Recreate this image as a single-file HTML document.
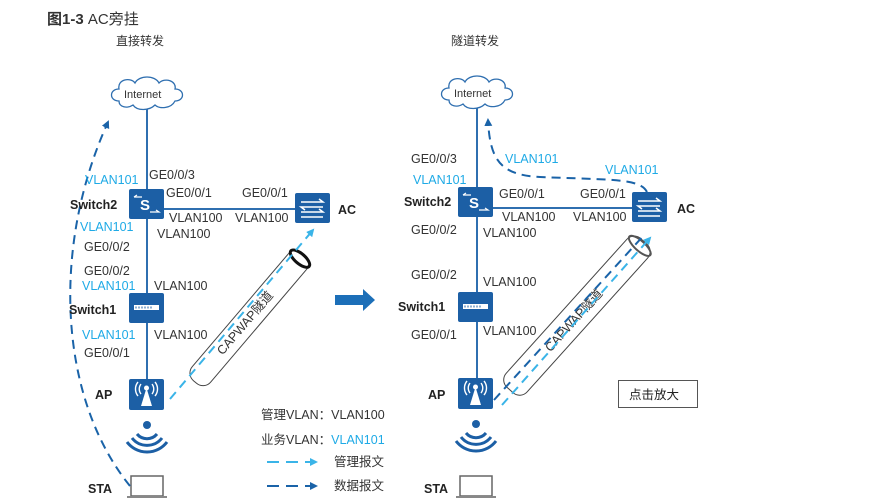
<!DOCTYPE html>
<html><head><meta charset="utf-8"><style>
body{margin:0;background:#fff;width:869px;height:498px;overflow:hidden}
svg text{font-family:"Liberation Sans","Noto Sans CJK SC",sans-serif;font-size:12.5px;fill:#333}
.c{fill:#1eaae6}
.b{font-weight:bold;fill:#222}
</style></head><body>
<svg width="869" height="498" viewBox="0 0 869 498" xmlns="http://www.w3.org/2000/svg">
<defs>
<marker id="ma" markerWidth="8" markerHeight="8" refX="6" refY="4" orient="auto" markerUnits="userSpaceOnUse"><path d="M0,0 L8,4 L0,8 z" fill="#3ab4e8"/></marker>
<marker id="mb" markerWidth="8" markerHeight="8" refX="6" refY="4" orient="auto" markerUnits="userSpaceOnUse"><path d="M0,0 L8,4 L0,8 z" fill="#1a63a8"/></marker>
<g id="cloud"><path d="M-28,8 C-38,8 -38,-4 -28,-4 C-30,-14 -16,-16 -12,-10 C-8,-18 8,-18 12,-10 C18,-16 30,-12 28,-4 C38,-4 38,8 28,8 C24,16 12,16 8,12 C2,18 -10,18 -14,12 C-20,16 -28,14 -28,8 z" fill="#fff" stroke="#2f6fb0" stroke-width="1.3"/></g>
<g id="sw2"><rect x="0" y="0" width="35" height="30" rx="2" fill="#1c5fa5"/><text x="11" y="21" style="fill:#fff;font-size:15px;font-weight:bold">S</text><path d="M5,8 h8 M5,8 l3,-2 M21,23 h9 l-3,-2" stroke="#fff" fill="none" stroke-width="1.2"/></g>
<g id="ac"><rect x="0" y="0" width="35" height="30" rx="2" fill="#1c5fa5"/><path d="M6,9 h22 l-4,-3 M28,14 h-22 l4,3 M6,19 h22 l-4,-3 M28,24 h-22" stroke="#fff" fill="none" stroke-width="1.5"/></g>
<g id="sw1"><rect x="0" y="0" width="35" height="30" rx="2" fill="#1c5fa5"/><rect x="5" y="12" width="25" height="5" fill="#fff"/><path d="M7,13.5 v2 M10,13.5 v2 M13,13.5 v2 M16,13.5 v2 M19,13.5 v2 M22,13.5 v2" stroke="#1c5fa5"/></g>
<g id="ap"><rect x="0" y="0" width="35" height="31" rx="2" fill="#1c5fa5"/><path d="M17.5,9 L12,27 h11 z" fill="#fff"/><circle cx="17.5" cy="9" r="2.5" fill="#fff"/><path d="M12,5 a8,8 0 0 0 0,10 M23,5 a8,8 0 0 1 0,10 M9,3 a11,11 0 0 0 0,14 M26,3 a11,11 0 0 1 0,14" stroke="#fff" fill="none" stroke-width="1.4"/></g>
<g id="wifi"><circle cx="0" cy="0" r="4" fill="#1c5fa5"/><path d="M-10,9 a13,13 0 0 0 20,0 M-15,13 a19,19 0 0 0 30,0 M-20,17 a25,25 0 0 0 40,0" stroke="#1c5fa5" fill="none" stroke-width="3"/></g>
<g id="lap"><rect x="0" y="0" width="32" height="20" fill="#fff" stroke="#666" stroke-width="1.5"/><rect x="-4" y="20" width="40" height="4" fill="#888"/></g>
</defs>

<text x="47" y="24" style="font-size:15px;font-weight:bold;fill:#333">图1-3 <tspan style="font-weight:normal">AC旁挂</tspan></text>
<text x="116" y="45" style="font-size:12px">直接转发</text>
<text x="451" y="45" style="font-size:12px">隧道转发</text>

<!-- LEFT -->
<line x1="147" y1="108" x2="147" y2="380" stroke="#2f6fb0" stroke-width="2"/>
<line x1="163" y1="209" x2="295" y2="209" stroke="#2f6fb0" stroke-width="2"/>
<use href="#cloud" x="147" y="93"/>
<text x="124" y="98" style="font-size:11px">Internet</text>
<use href="#sw2" x="129" y="189"/>
<use href="#ac" x="295" y="193"/>
<use href="#sw1" x="129" y="293"/>
<use href="#ap" x="129" y="379"/>
<use href="#wifi" x="147" y="425"/>
<use href="#lap" x="131" y="476"/>
<path d="M130,486 C60,400 50,250 108,122" stroke="#1a63a8" stroke-width="2" fill="none" stroke-dasharray="9,6" marker-end="url(#mb)"/>
<g transform="translate(195,382) rotate(-49.6)">
<rect x="0" y="-12" width="168" height="24" rx="10" fill="#fff" stroke="#444" stroke-width="1"/>
<ellipse cx="162" cy="0" rx="5" ry="12" fill="none" stroke="#111" stroke-width="3"/>
<text x="38" y="4" style="font-size:12.5px">CAPWAP隧道</text>
</g>
<line x1="170" y1="399" x2="313" y2="230" stroke="#3ab4e8" stroke-width="2" stroke-dasharray="9,6" marker-end="url(#ma)"/>

<text x="85" y="184" class="c">VLAN101</text>
<text x="149" y="179">GE0/0/3</text>
<text x="70" y="209" class="b">Switch2</text>
<text x="166" y="197">GE0/0/1</text>
<text x="242" y="197">GE0/0/1</text>
<text x="169" y="222">VLAN100</text>
<text x="235" y="222">VLAN100</text>
<text x="338" y="214" class="b">AC</text>
<text x="80" y="231" class="c">VLAN101</text>
<text x="157" y="238">VLAN100</text>
<text x="84" y="251">GE0/0/2</text>
<text x="84" y="275">GE0/0/2</text>
<text x="82" y="290" class="c">VLAN101</text>
<text x="154" y="290">VLAN100</text>
<text x="69" y="314" class="b">Switch1</text>
<text x="82" y="339" class="c">VLAN101</text>
<text x="154" y="339">VLAN100</text>
<text x="84" y="357">GE0/0/1</text>
<text x="95" y="399" class="b">AP</text>
<text x="88" y="493" class="b">STA</text>

<path d="M335,295 h28 v-6 l12,11 l-12,11 v-6 h-28 z" fill="#1c6fb8"/>

<!-- RIGHT -->
<line x1="477" y1="107" x2="477" y2="380" stroke="#2f6fb0" stroke-width="2"/>
<line x1="493" y1="208" x2="632" y2="208" stroke="#2f6fb0" stroke-width="2"/>
<use href="#cloud" x="477" y="92"/>
<text x="454" y="97" style="font-size:11px">Internet</text>
<use href="#sw2" x="458" y="187"/>
<use href="#ac" x="632" y="192"/>
<use href="#sw1" x="458" y="292"/>
<use href="#ap" x="458" y="378"/>
<use href="#wifi" x="476" y="424"/>
<use href="#lap" x="460" y="476"/>
<path d="M647,192 C640,178 610,180 540,177 C500,175 490,160 488,120" stroke="#1a63a8" stroke-width="2" fill="none" stroke-dasharray="9,6" marker-end="url(#mb)"/>
<g transform="translate(510,390) rotate(-48)">
<rect x="0" y="-14" width="200" height="28" rx="10" fill="#fff" stroke="#444" stroke-width="1"/>
<ellipse cx="194" cy="0" rx="5" ry="14" fill="none" stroke="#555" stroke-width="2"/>
<text x="55" y="5" style="font-size:12.5px">CAPWAP隧道</text>
</g>
<line x1="494" y1="400" x2="645" y2="234" stroke="#1a63a8" stroke-width="2" stroke-dasharray="9,6"/>
<line x1="502" y1="405" x2="650" y2="238" stroke="#3ab4e8" stroke-width="2" stroke-dasharray="9,6" marker-end="url(#ma)"/>

<text x="411" y="163">GE0/0/3</text>
<text x="505" y="163" class="c">VLAN101</text>
<text x="605" y="174" class="c">VLAN101</text>
<text x="413" y="184" class="c">VLAN101</text>
<text x="404" y="206" class="b">Switch2</text>
<text x="499" y="198">GE0/0/1</text>
<text x="580" y="198">GE0/0/1</text>
<text x="502" y="221">VLAN100</text>
<text x="573" y="221">VLAN100</text>
<text x="677" y="213" class="b">AC</text>
<text x="411" y="234">GE0/0/2</text>
<text x="483" y="237">VLAN100</text>
<text x="411" y="279">GE0/0/2</text>
<text x="483" y="286">VLAN100</text>
<text x="398" y="311" class="b">Switch1</text>
<text x="411" y="339">GE0/0/1</text>
<text x="483" y="335">VLAN100</text>
<text x="428" y="399" class="b">AP</text>
<text x="424" y="493" class="b">STA</text>

<rect x="618.5" y="380.5" width="79" height="27" fill="#fff" stroke="#555"/>
<text x="629" y="399" style="font-size:12.5px;fill:#222">点击放大</text>

<text x="261" y="419">管理VLAN：VLAN100</text>
<text x="261" y="444">业务VLAN：<tspan class="c">VLAN101</tspan></text>
<line x1="267" y1="462" x2="316" y2="462" stroke="#3ab4e8" stroke-width="2" stroke-dasharray="12,7" marker-end="url(#ma)"/>
<line x1="267" y1="486" x2="316" y2="486" stroke="#1a63a8" stroke-width="2" stroke-dasharray="12,7" marker-end="url(#mb)"/>
<text x="334" y="466">管理报文</text>
<text x="334" y="490">数据报文</text>
</svg>
</body></html>
